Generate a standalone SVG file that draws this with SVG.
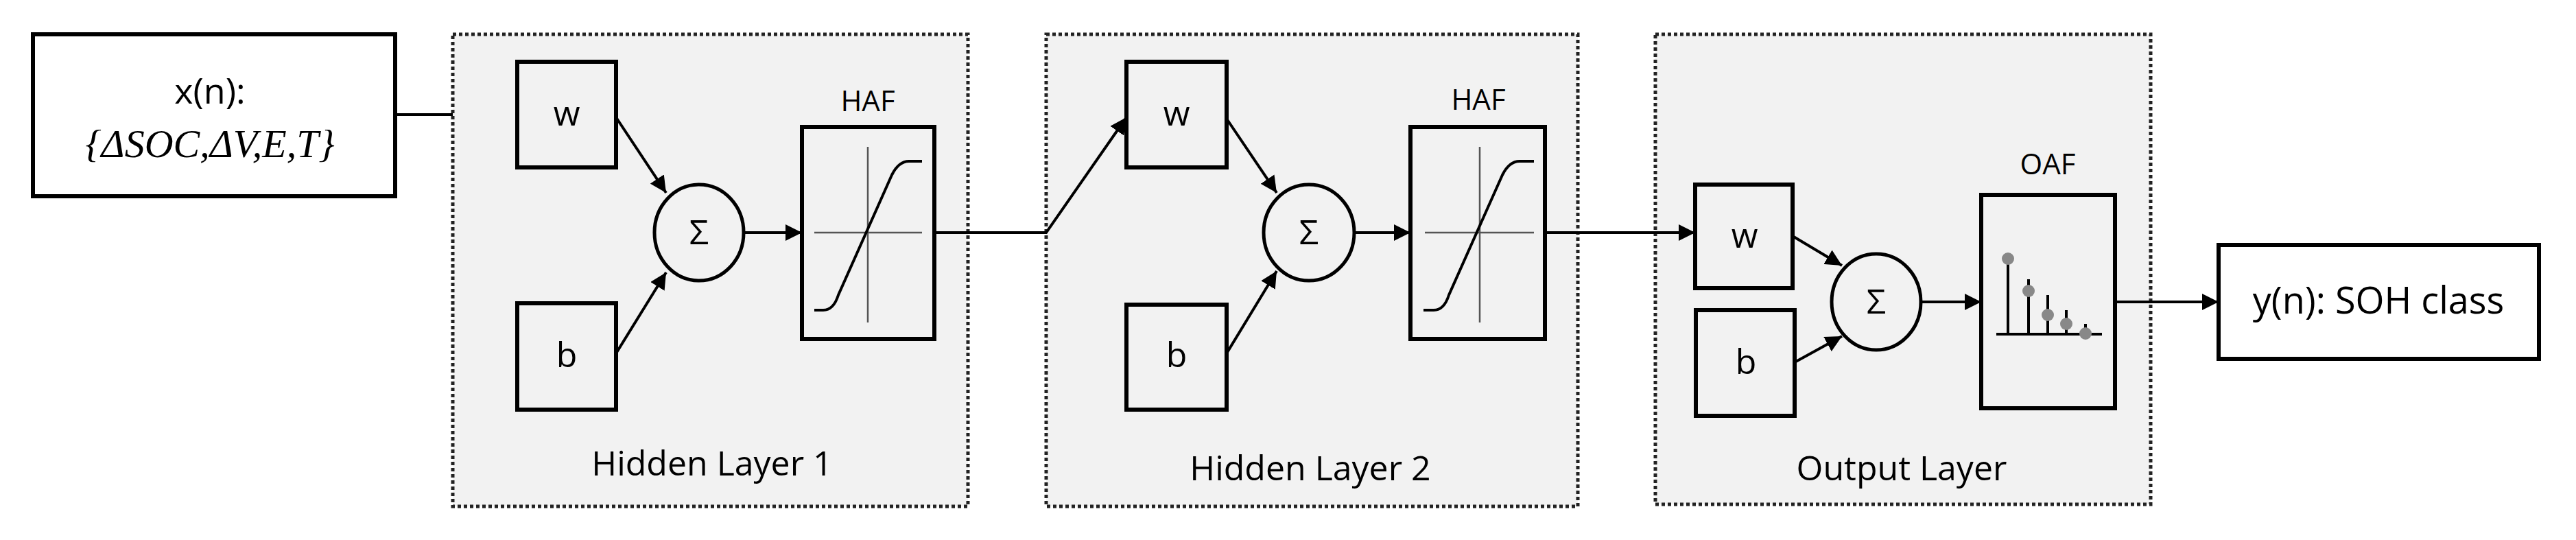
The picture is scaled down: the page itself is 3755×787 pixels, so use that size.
<svg xmlns="http://www.w3.org/2000/svg" width="3755" height="787" viewBox="0 0 3755 787">
<style>
.layer{fill:#f2f2f2;stroke:#222;stroke-width:5;stroke-dasharray:5 4}
.box{fill:none;stroke:#000;stroke-width:6}
.wb{fill:#f2f2f2;stroke:#000;stroke-width:6}
.sum{fill:#f2f2f2;stroke:#000;stroke-width:5}
.ln{fill:none;stroke:#000;stroke-width:4}
.thin{fill:none;stroke:#555;stroke-width:2.5}
.t{font-family:"Open Sans","Liberation Sans",sans-serif;fill:#000;text-anchor:middle}
.m{font-family:"Liberation Serif",serif;font-style:italic;fill:#000;text-anchor:middle}
.dot{fill:#888}
</style>
<defs>
<marker id="a" viewBox="0 0 10 10" refX="10" refY="5" markerWidth="6" markerHeight="6" markerUnits="strokeWidth" orient="auto"><path d="M0,0L10,5L0,10z" fill="#000"/></marker>
</defs>
<rect width="3755" height="787" fill="#fff"/>
<g id="layer1"><rect class="layer" x="660" y="50" width="751" height="688"/><text class="t" x="1038" y="693" font-size="50">Hidden Layer 1</text></g>
<g id="layer2"><rect class="layer" x="1525" y="50" width="775" height="688"/><text class="t" x="1910" y="700" font-size="50">Hidden Layer 2</text></g>
<g id="layer3"><rect class="layer" x="2413" y="50" width="722" height="685"/><text class="t" x="2772" y="700" font-size="50">Output Layer</text></g>
<g id="input"><rect class="box" x="48" y="50" width="528" height="236" fill="#fff"/><text class="t" x="306" y="151" font-size="52">x(n):</text><text class="m" x="306" y="229" font-size="58">{ΔSOC,ΔV,E,T}</text></g>
<g id="w1"><rect class="wb" x="754" y="90" width="144" height="154"/><text class="t" x="826" y="183" font-size="50">w</text></g>
<g id="b1"><rect class="wb" x="754" y="442" width="144" height="155"/><text class="t" x="826" y="535" font-size="50">b</text></g>
<g id="sum1"><ellipse class="sum" cx="1019" cy="339" rx="65" ry="70"/><text class="t" x="1019" y="356" font-size="50">Σ</text></g>
<g id="haf1"><rect class="box" x="1169" y="185" width="193" height="309"/><text class="t" x="1265" y="162" font-size="42">HAF</text><path class="thin" d="M1265,214V470M1187,339H1344"/><path class="ln" d="M1187,452H1200Q1215,452 1222,430L1300,255Q1310,235 1325,235H1344"/></g>
<g id="w2"><rect class="wb" x="1642" y="90" width="146" height="154"/><text class="t" x="1715" y="183" font-size="50">w</text></g>
<g id="b2"><rect class="wb" x="1642" y="444" width="146" height="153"/><text class="t" x="1715" y="535" font-size="50">b</text></g>
<g id="sum2"><ellipse class="sum" cx="1908" cy="339" rx="66" ry="70"/><text class="t" x="1908" y="356" font-size="50">Σ</text></g>
<g id="haf2"><rect class="box" x="2056" y="185" width="196" height="309"/><text class="t" x="2155" y="160" font-size="42">HAF</text><path class="thin" d="M2157,214V470M2077,339H2236"/><path class="ln" d="M2075,452H2090Q2105,452 2112,430L2190,255Q2200,235 2215,235H2236"/></g>
<g id="w3"><rect class="wb" x="2471" y="269" width="142" height="151"/><text class="t" x="2543" y="361" font-size="50">w</text></g>
<g id="b3"><rect class="wb" x="2472" y="452" width="144" height="154"/><text class="t" x="2545" y="545" font-size="50">b</text></g>
<g id="sum3"><ellipse class="sum" cx="2735" cy="440" rx="65" ry="70"/><text class="t" x="2735" y="457" font-size="50">Σ</text></g>
<g id="oaf"><rect class="box" x="2888" y="284" width="195" height="311"/><text class="t" x="2985" y="254" font-size="42">OAF</text>
<path class="ln" d="M2910,487H3064M2927,377V487M2957,407V487M2985,430V487M3012,452V487M3040,472V487"/>
<circle class="dot" cx="2927" cy="377" r="9"/><circle class="dot" cx="2957" cy="424" r="9"/><circle class="dot" cx="2985" cy="459" r="9"/><circle class="dot" cx="3012" cy="472" r="9"/><circle class="dot" cx="3040" cy="486" r="9"/></g>
<g id="output"><rect class="box" x="3234" y="357" width="467" height="166" fill="#fff"/><text class="t" x="3467" y="457" font-size="54">y(n): SOH class</text></g>
<g id="connectors">
<path class="ln" d="M576,167H660"/>
<path class="ln" d="M898,171L971,281" marker-end="url(#a)"/>
<path class="ln" d="M898,515L971,397" marker-end="url(#a)"/>
<path class="ln" d="M1084,339H1169" marker-end="url(#a)"/>
<path class="ln" d="M1362,339H1525L1642,171" marker-end="url(#a)"/>
<path class="ln" d="M1788,173L1861,281" marker-end="url(#a)"/>
<path class="ln" d="M1788,515L1861,395" marker-end="url(#a)"/>
<path class="ln" d="M1974,339H2056" marker-end="url(#a)"/>
<path class="ln" d="M2252,339H2471" marker-end="url(#a)"/>
<path class="ln" d="M2613,344L2685,387" marker-end="url(#a)"/>
<path class="ln" d="M2616,528L2685,490" marker-end="url(#a)"/>
<path class="ln" d="M2800,440H2888" marker-end="url(#a)"/>
<path class="ln" d="M3083,440H3234" marker-end="url(#a)"/>
</g>
</svg>
